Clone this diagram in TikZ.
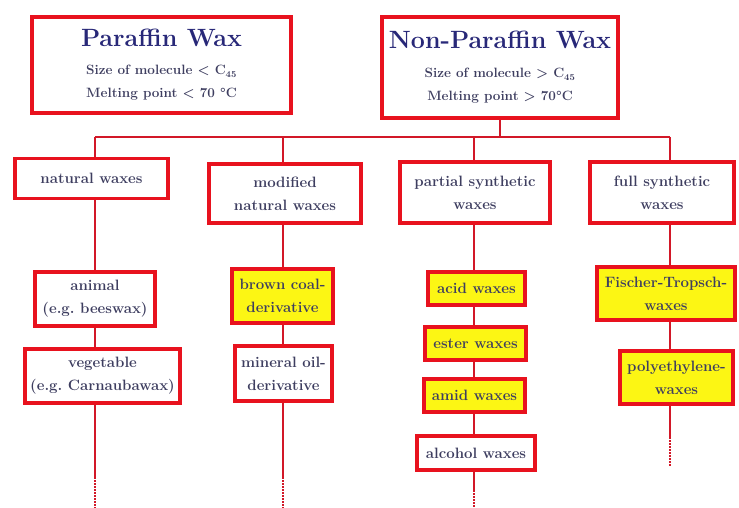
\documentclass[tikz,border=0pt]{standalone}
\definecolor{boxred}{RGB}{232,18,30}
\definecolor{linkred}{RGB}{210,24,40}
\definecolor{waxyellow}{RGB}{252,246,20}
\definecolor{txt}{RGB}{62,62,96}
\definecolor{ttl}{RGB}{40,40,120}
\begin{document}
\begin{tikzpicture}[x=1pt, y=-1pt,
    every node/.style={font=\fontsize{15}{23}\selectfont\bfseries\frenchspacing, text=txt, align=center},
    box/.style={draw=boxred, line width=3.5pt, fill=white, inner sep=0pt},
    ybox/.style={box, fill=waxyellow},
    link/.style={draw=linkred, line width=1.8pt},
    tail/.style={link, dash pattern=on 1.5pt off 1.5pt}
]
\useasboundingbox (0,0) rectangle (739,508);

% head boxes
\node[box, minimum width=259pt, minimum height=96pt] (paraffin) at (161.5,65)
  {{\fontsize{25}{27}\selectfont\color{ttl}Paraffin Wax}\\[5pt]
   {\fontsize{13.5}{20}\selectfont Size of molecule < C$_{\mathbf{45}}$}\\
   {\fontsize{13.5}{20}\selectfont Melting point < 70 \textdegree C}};
\node[box, minimum width=236pt, minimum height=101pt] (nonpar) at (500,67.5)
  {{\fontsize{25}{27}\selectfont\color{ttl}Non-Paraffin Wax}\\[6pt]
   {\fontsize{13.5}{22}\selectfont Size of molecule > C$_{\mathbf{45}}$}\\
   {\fontsize{13.5}{22}\selectfont Melting point > 70\textdegree C}};

% groups
\node[box, minimum width=153pt, minimum height=40pt] (natural) at (91.5,178.5) {natural waxes};
\node[box, minimum width=152pt, minimum height=59pt] (modified) at (285,193.5) {modified\\natural waxes};
\node[box, minimum width=150pt, minimum height=61pt] (partial) at (475,192.5) {partial synthetic\\waxes};
\node[box, minimum width=144pt, minimum height=61pt] (full) at (662,192.5) {full synthetic\\waxes};

% members
\node[box, minimum width=120pt, minimum height=54pt] (animal) at (95,299) {animal\\(e.g. beeswax)};
\node[box, minimum width=155pt, minimum height=54pt] (vegetable) at (102.5,376) {vegetable\\(e.g. Carnaubawax)};
\node[ybox, minimum width=101pt, minimum height=54pt] (browncoal) at (282.5,296) {brown coal-\\derivative};
\node[box, minimum width=97pt, minimum height=55pt] (mineraloil) at (283.5,373.5) {mineral oil-\\derivative};
\node[ybox, minimum width=97pt, minimum height=33pt] (acid) at (476.5,288.5) {acid waxes};
\node[ybox, minimum width=101pt, minimum height=33pt] (ester) at (475.5,343.5) {ester waxes};
\node[ybox, minimum width=101pt, minimum height=33pt] (amid) at (474.5,395.5) {amid waxes};
\node[box, minimum width=118pt, minimum height=34pt] (alcohol) at (476,453) {alcohol waxes};
\node[ybox, minimum width=138pt, minimum height=53pt] (fischer) at (666,293.5) {Fischer-Tropsch-\\waxes};
\node[ybox, minimum width=113pt, minimum height=53pt] (poly) at (676.5,377.5) {polyethylene-\\waxes};

% bus and columns
\coordinate (c1) at (95,137);
\coordinate (c2) at (283,137);
\coordinate (c3) at (474,137);
\coordinate (c4) at (670,137);
\draw[link] (nonpar.south) -- (nonpar.south |- c1);
\draw[link] (c1) -- (c4);
\draw[link] (c1) -- (c1 |- natural.north);
\draw[link] (c2) -- (c2 |- modified.north);
\draw[link] (c3) -- (c3 |- partial.north);
\draw[link] (c4) -- (c4 |- full.north);

\draw[link] (c1 |- natural.south) -- (c1 |- animal.north);
\draw[link] (c1 |- animal.south) -- (c1 |- vegetable.north);
\draw[link] (c2 |- modified.south) -- (c2 |- browncoal.north);
\draw[link] (c2 |- browncoal.south) -- (c2 |- mineraloil.north);
\draw[link] (c3 |- partial.south) -- (c3 |- acid.north);
\draw[link] (c3 |- acid.south) -- (c3 |- ester.north);
\draw[link] (c3 |- ester.south) -- (c3 |- amid.north);
\draw[link] (c3 |- amid.south) -- (c3 |- alcohol.north);
\draw[link] (c4 |- full.south) -- (c4 |- fischer.north);
\draw[link] (c4 |- fischer.south) -- (c4 |- poly.north);

% open ends
\coordinate (e1) at (95,477);  \coordinate (f1) at (95,508);
\coordinate (e2) at (283,477); \coordinate (f2) at (283,508);
\coordinate (e3) at (474,490); \coordinate (f3) at (474,508);
\coordinate (e4) at (670,437); \coordinate (f4) at (670,467);
\draw[link] (c1 |- vegetable.south) -- (e1);
\draw[link] (c2 |- mineraloil.south) -- (e2);
\draw[link] (c3 |- alcohol.south) -- (e3);
\draw[link] (c4 |- poly.south) -- (e4);
\draw[tail] (e1) -- (f1); \draw[tail] (e2) -- (f2);
\draw[tail] (e3) -- (f3); \draw[tail] (e4) -- (f4);
\end{tikzpicture}
\end{document}
